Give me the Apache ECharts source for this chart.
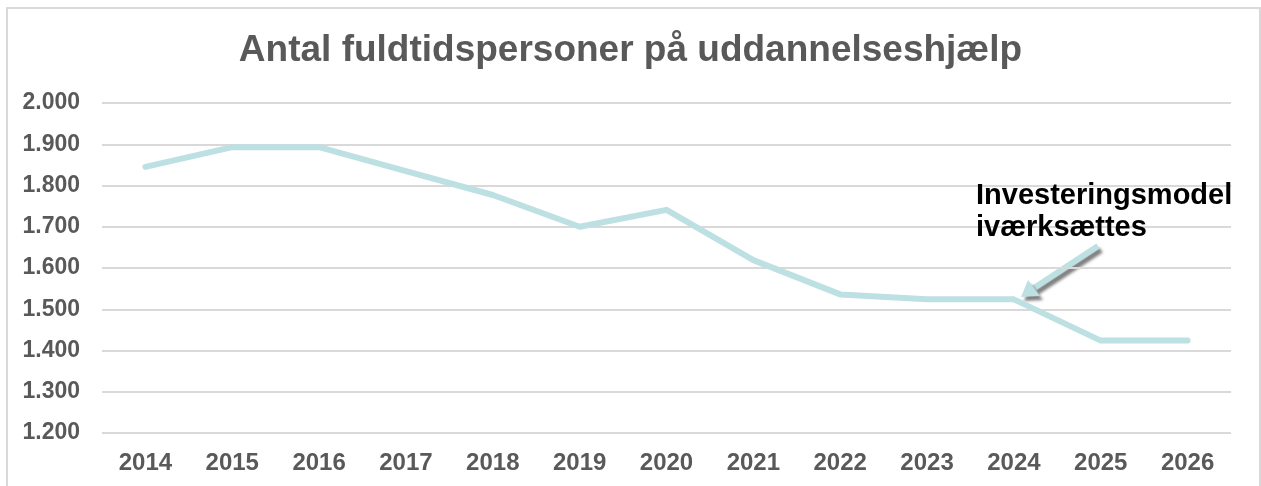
<!DOCTYPE html>
<html>
<head>
<meta charset="utf-8">
<script src="https://cdn.jsdelivr.net/npm/echarts@6/dist/echarts.min.js"></script>
<style>
  html, body { margin: 0; padding: 0; background: #fff; }
  #chart { width: 1261px; height: 486px; }
</style>
</head>
<body>
<div id="chart"></div>
<script>
// data
const years = ['2014', '2015', '2016', '2017', '2018', '2019', '2020', '2021', '2022', '2023', '2024', '2025', '2026']
const persons = [1845, 1893, 1893, 1835, 1777, 1700, 1741, 1619, 1536, 1524, 1524, 1424, 1424]
const titleText = 'Antal fuldtidspersoner på uddannelseshjælp'
const noteLines = ['Investeringsmodel', 'iværksættes']

const font = '"Liberation Sans", Arial, Helvetica, sans-serif'
const grey = '#595959'
const lineColor = '#BDE0E3'

// tal med punktum som tusindtalsseparator
function dk (v) {
  return String(v).replace(/\B(?=(\d{3})+$)/g, '.')
}

const chart = echarts.init(document.getElementById('chart'))

const option = {
  animation: false,
  title: {
    text: titleText,
    left: 'center',
    top: 27,
    textStyle: {
      fontFamily: font,
      fontSize: 37,
      fontWeight: 'bold',
      color: grey
    }
  },
  grid: {
    left: 102,
    right: 30,
    top: 103,
    bottom: 53
  },
  xAxis: {
    type: 'category',
    data: years,
    boundaryGap: true,
    axisLine: { show: false },
    axisTick: { show: false },
    axisLabel: {
      margin: 18,
      fontFamily: font,
      fontSize: 24,
      fontWeight: 'bold',
      color: grey
    }
  },
  yAxis: {
    type: 'value',
    min: 1200,
    max: 2000,
    interval: 100,
    axisLine: { show: false },
    axisTick: { show: false },
    splitLine: { lineStyle: { color: '#D9D9D9', width: 2 } },
    axisLabel: {
      margin: 22,
      fontFamily: font,
      fontSize: 23,
      fontWeight: 'bold',
      color: grey,
      formatter: dk
    }
  },
  series: [{
    type: 'line',
    data: persons,
    showSymbol: false,
    symbol: 'none',
    lineStyle: { color: lineColor, width: 6, cap: 'round', join: 'round' }
  }],
  graphic: [
    { // ramme om diagrammet
      type: 'rect',
      shape: { x: 7, y: 8, width: 1253, height: 500 },
      style: { fill: 'none', stroke: '#D9D9D9', lineWidth: 2 },
      silent: true
    },
    { // kommentar, linje 1
      type: 'text',
      z: 100,
      x: 976,
      y: 196,
      style: {
        text: noteLines[0],
        font: 'bold 29px ' + font,
        verticalAlign: 'middle',
        fill: '#000'
      }
    },
    { // kommentar, linje 2
      type: 'text',
      z: 100,
      x: 976,
      y: 228,
      style: {
        text: noteLines[1],
        font: 'bold 29px ' + font,
        verticalAlign: 'middle',
        fill: '#000'
      }
    },
    { // pil
      type: 'group',
      z: 100,
      children: [
        {
          type: 'line',
          shape: { x1: 1098, y1: 246, x2: 1034, y2: 288 },
          style: {
            stroke: lineColor,
            lineWidth: 6,
            shadowColor: 'rgba(0,0,0,0.5)',
            shadowBlur: 3,
            shadowOffsetX: 3,
            shadowOffsetY: 4
          }
        },
        {
          type: 'polygon',
          shape: { points: [[1021, 297], [1040, 296], [1028, 280]] },
          style: {
            fill: lineColor,
            shadowColor: 'rgba(0,0,0,0.5)',
            shadowBlur: 3,
            shadowOffsetX: 3,
            shadowOffsetY: 4
          }
        }
      ]
    }
  ]
}

chart.setOption(option)
</script>
</body>
</html>
